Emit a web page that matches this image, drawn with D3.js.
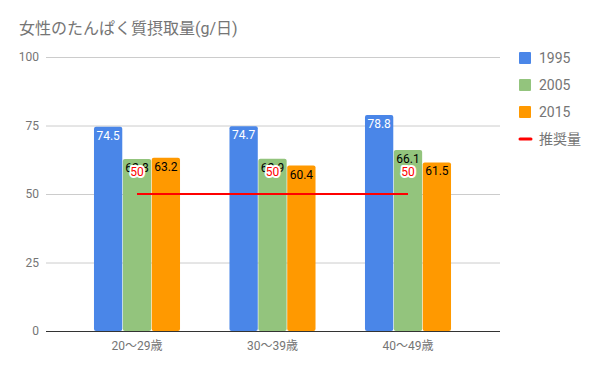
<!DOCTYPE html>
<html>
<head>
<meta charset="utf-8">
<script src="https://cdn.jsdelivr.net/npm/d3@7"></script>
<style>
  body { margin: 0; background: #fff; }
  text { font-family: Roboto, "Noto Sans CJK JP", sans-serif; }
</style>
</head>
<body>
<script>
const categories = ["20〜29歳", "30〜39歳", "40〜49歳"];
const seriesNames = ["1995", "2005", "2015"];
const values1995 = [74.5, 74.7, 78.8];
const values2005 = [62.8, 62.9, 66.1];
const values2015 = [63.2, 60.4, 61.5];
const recommended = [50, 50, 50];
const yTicks = [0, 25, 50, 75, 100];

const colors = ["#4a86e8", "#93c47d", "#ff9900"];
const lineColor = "#ff0000";
const textGrey = "#757575";

const width = 600, height = 371;
const plot = { left: 46, right: 500, top: 57, bottom: 331 };

const svg = d3.select("body").append("svg")
  .attr("width", width)
  .attr("height", height);

svg.append("text")
  .attr("x", 19).attr("y", 34)
  .style("font-size", "16px")
  .style("fill", textGrey)
  .text("女性のたんぱく質摂取量(g/日)");

const y = d3.scaleLinear().domain([0, 100]).range([plot.bottom, plot.top]);
const x = d3.scaleBand().domain(categories).range([69.25, 475.75])
  .paddingInner(0.365).paddingOuter(0.1825);
const xs = d3.scaleBand().domain(seriesNames).range([0, x.bandwidth()]).paddingInner(0.02);

// gridlines + y labels
const yAxis = d3.axisLeft(y).tickValues(yTicks).tickSize(-(plot.right - plot.left)).tickPadding(7);
const gy = svg.append("g").attr("transform", `translate(${plot.left},0)`).call(yAxis);
gy.select(".domain").remove();
gy.selectAll(".tick line").attr("stroke", "#cccccc");
gy.selectAll(".tick text").style("font-size", "12px").style("fill", textGrey);

// bars
const seriesData = [values1995, values2005, values2015];
seriesData.forEach((vals, si) => {
  svg.append("g").selectAll("rect")
    .data(vals)
    .join("rect")
    .attr("x", (d, i) => x(categories[i]) + xs(seriesNames[si]))
    .attr("y", d => y(d))
    .attr("width", xs.bandwidth())
    .attr("height", d => y(0) - y(d))
    .attr("rx", 2)
    .attr("fill", colors[si]);
});

// baseline
svg.append("line")
  .attr("x1", plot.left).attr("x2", plot.right)
  .attr("y1", y(0) + 0.5).attr("y2", y(0) + 0.5)
  .attr("stroke", "#333333");

// bar labels
seriesData.forEach((vals, si) => {
  svg.append("g").selectAll("text")
    .data(vals)
    .join("text")
    .attr("x", (d, i) => x(categories[i]) + xs(seriesNames[si]) + xs.bandwidth() / 2)
    .attr("y", d => y(d) + 13)
    .attr("text-anchor", "middle")
    .style("font-size", "12px")
    .style("fill", si === 0 ? "#ffffff" : "#000000")
    .text(d => d.toFixed(1));
});

// recommended line
const line = d3.line()
  .x((d, i) => x(categories[i]) + x.bandwidth() / 2)
  .y(d => y(d));
svg.append("path")
  .datum(recommended)
  .attr("d", line)
  .attr("fill", "none")
  .attr("stroke", lineColor)
  .attr("stroke-width", 2);

svg.append("g").selectAll("text")
  .data(recommended)
  .join("text")
  .attr("x", (d, i) => x(categories[i]) + x.bandwidth() / 2)
  .attr("y", d => y(d) - 18)
  .attr("text-anchor", "middle")
  .style("font-size", "12px")
  .style("fill", lineColor)
  .style("stroke", "#ffffff")
  .style("stroke-width", "4px")
  .style("stroke-linejoin", "round")
  .style("paint-order", "stroke")
  .text(d => d);

// x labels
svg.append("g").selectAll("text")
  .data(categories)
  .join("text")
  .attr("x", d => x(d) + x.bandwidth() / 2)
  .attr("y", 350)
  .attr("text-anchor", "middle")
  .style("font-size", "12px")
  .style("fill", textGrey)
  .text(d => d);

// legend
const legendItems = seriesNames.concat(["推奨量"]);
const lg = svg.append("g").attr("transform", "translate(519,52)");
legendItems.forEach((name, i) => {
  const row = lg.append("g").attr("transform", `translate(0,${i * 27})`);
  if (i < 3) {
    row.append("rect").attr("x", 0).attr("y", 0).attr("width", 12).attr("height", 12)
      .attr("rx", 1).attr("fill", colors[i]);
  } else {
    row.append("line").attr("x1", 1).attr("x2", 12).attr("y1", 6).attr("y2", 6)
      .attr("stroke", lineColor).attr("stroke-width", 3).attr("stroke-linecap", "round");
  }
  row.append("text").attr("x", 20).attr("y", 11)
    .style("font-size", "14px")
    .style("fill", textGrey)
    .text(name);
});
</script>
</body>
</html>
